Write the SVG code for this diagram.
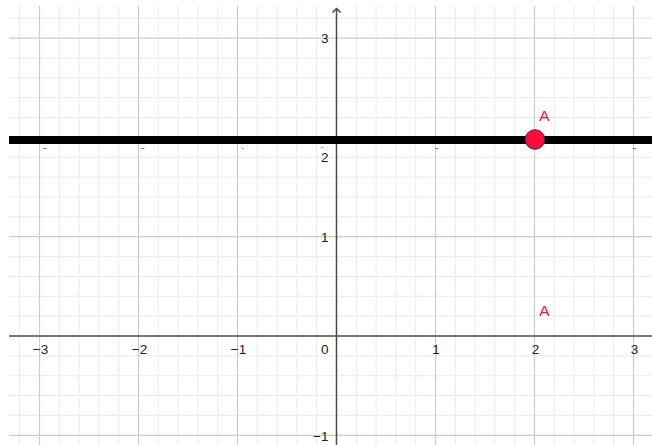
<svg xmlns="http://www.w3.org/2000/svg" width="652" height="445" viewBox="0 0 652 445">
<style>
.minor{stroke:#ebebeb;stroke-width:1;fill:none}
.major{stroke:#cccccc;stroke-width:1.2;fill:none}
.axis{stroke:#4a4a4a;stroke-width:1.5;fill:none}
.lbl{font-family:"Liberation Sans",Arial,sans-serif;font-size:13.5px;fill:#222}
.pt{font-family:"Liberation Sans",Arial,sans-serif;font-size:15.5px;fill:#ff0a3c}
.dash{stroke:#777;stroke-width:1}
</style>
<rect width="652" height="445" fill="#ffffff"/>
<g id="grid-minor" class="minor">
<path d="M19.7 6V445M59.3 6V445M79.1 6V445M98.9 6V445M118.7 6V445M158.3 6V445M178.1 6V445M197.9 6V445M217.7 6V445M257.3 6V445M277.1 6V445M296.9 6V445M316.7 6V445M356.3 6V445M376.1 6V445M395.9 6V445M415.7 6V445M455.3 6V445M475.1 6V445M494.9 6V445M514.7 6V445M554.3 6V445M574.1 6V445M593.9 6V445M613.7 6V445"/>
<path d="M9 18.2H652M9 58H652M9 77.8H652M9 97.7H652M9 117.5H652M9 157.3H652M9 177.1H652M9 197H652M9 216.8H652M9 256.6H652M9 276.4H652M9 296.3H652M9 316.1H652M9 355.9H652M9 375.7H652M9 395.6H652M9 415.4H652"/>
</g>
<g id="grid-major" class="major">
<path d="M39.5 6V445M138.5 6V445M237.5 6V445M435.5 6V445M534.5 6V445M633.5 6V445"/>
<path d="M9 38.1H652M9 137.4H652M9 236.7H652M9 435.3H652"/>
</g>
<g id="axes" class="axis">
<path d="M9 336H652"/>
<path d="M336.5 445V8.5"/>
<path d="M332.5 12.5L336.5 8.5L340.5 12.5"/>
</g>
<g id="x-labels" class="lbl" text-anchor="middle">
<text x="40.5" y="354">−3</text>
<text x="139.5" y="354">−2</text>
<text x="238.5" y="354">−1</text>
<text x="436" y="354">1</text>
<text x="535.5" y="354">2</text>
<text x="634.5" y="354">3</text>
</g>
<g id="y-labels" class="lbl" text-anchor="end">
<text x="328.5" y="354">0</text>
<text x="328.5" y="43">3</text>
<text x="328.5" y="162">2</text>
<text x="328.5" y="242">1</text>
<text x="328.5" y="441">−1</text>
</g>
<g id="marks" class="dash">
<path d="M43.3 148.5H46.3M141 148.5H144.3M242 148.5H243.5M435.5 148.5H438M632.7 148.5H636M321.7 147.5H323.3"/>
</g>
<g id="line-y2">
<rect x="9" y="136" width="643" height="8" fill="#000"/>
</g>
<g id="point-A">
<circle cx="535" cy="139.5" r="9.8" fill="#ff0a3c" stroke="#333" stroke-width="1"/>
<text class="pt" x="539.3" y="121">A</text>
</g>
<g id="label-A2">
<text class="pt" x="539.3" y="316">A</text>
</g>
</svg>
